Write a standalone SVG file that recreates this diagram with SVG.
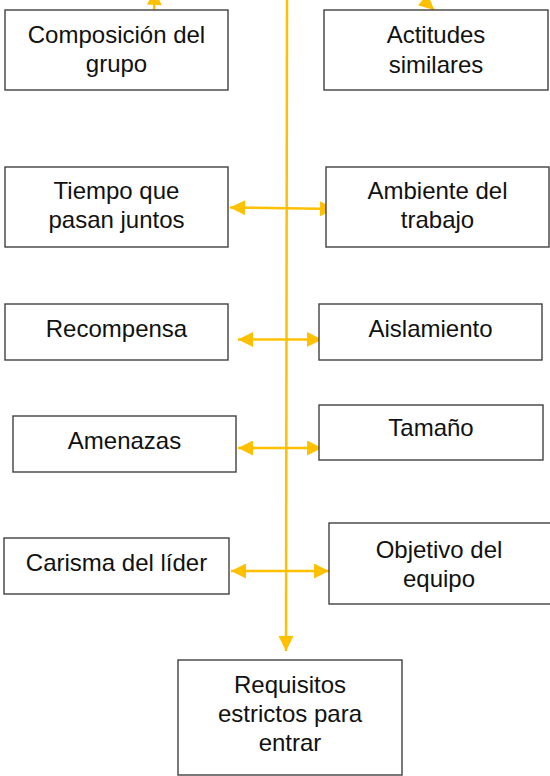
<svg xmlns="http://www.w3.org/2000/svg" width="550" height="776" viewBox="0 0 550 776">
<style>
.box{fill:#fff;stroke:#404040;stroke-width:1.4}
.t{font-family:"Liberation Sans",Arial,sans-serif;font-size:24px;fill:#111;text-anchor:middle}
.c{stroke:#FFC000;stroke-width:2.5;fill:none}
</style>
<defs>
<marker id="ah" viewBox="0 0 10 10" refX="10" refY="5" markerWidth="16" markerHeight="15" markerUnits="userSpaceOnUse" orient="auto-start-reverse">
<path d="M0,0 L10,5 L0,10 z" fill="#FFC000"/>
</marker>
</defs>
<rect width="550" height="776" fill="#fff"/>
<g id="connectors">
<line class="c" x1="287" y1="0" x2="286" y2="651" marker-end="url(#ah)"/>
<line class="c" x1="154" y1="10" x2="155" y2="-10" marker-end="url(#ah)"/>
<line class="c" x1="408" y1="-14" x2="434" y2="10" marker-end="url(#ah)"/>
<line class="c" x1="230" y1="207.5" x2="335" y2="209" marker-start="url(#ah)" marker-end="url(#ah)"/>
<line class="c" x1="238" y1="339.5" x2="322" y2="339.5" marker-start="url(#ah)" marker-end="url(#ah)"/>
<line class="c" x1="238" y1="448" x2="322" y2="448" marker-start="url(#ah)" marker-end="url(#ah)"/>
<line class="c" x1="231" y1="571" x2="329" y2="571" marker-start="url(#ah)" marker-end="url(#ah)"/>
</g>
<g id="composicion"><rect class="box" x="5" y="10" width="223" height="80"/><text class="t" x="116.5" y="43">Composición del</text><text class="t" x="116.5" y="72">grupo</text></g>
<g id="actitudes"><rect class="box" x="324" y="10" width="224" height="80"/><text class="t" x="436" y="43">Actitudes</text><text class="t" x="436" y="73">similares</text></g>
<g id="tiempo"><rect class="box" x="5" y="167" width="223" height="80"/><text class="t" x="116.5" y="199">Tiempo que</text><text class="t" x="116.5" y="228">pasan juntos</text></g>
<g id="ambiente"><rect class="box" x="326" y="167" width="223" height="80"/><text class="t" x="437.5" y="199">Ambiente del</text><text class="t" x="437.5" y="228">trabajo</text></g>
<g id="recompensa"><rect class="box" x="5" y="304" width="223" height="56"/><text class="t" x="116.5" y="337">Recompensa</text></g>
<g id="aislamiento"><rect class="box" x="319" y="304" width="223" height="56"/><text class="t" x="430.5" y="337">Aislamiento</text></g>
<g id="amenazas"><rect class="box" x="13" y="416" width="223" height="56"/><text class="t" x="124.5" y="449">Amenazas</text></g>
<g id="tamano"><rect class="box" x="319" y="405" width="224" height="55"/><text class="t" x="431" y="436">Tamaño</text></g>
<g id="carisma"><rect class="box" x="4" y="538" width="225" height="56"/><text class="t" x="116.5" y="571">Carisma del líder</text></g>
<g id="objetivo"><rect class="box" x="329" y="523" width="222" height="81"/><text class="t" x="439" y="558">Objetivo del</text><text class="t" x="439" y="587">equipo</text></g>
<g id="requisitos"><rect class="box" x="178" y="660" width="224" height="115"/><text class="t" x="290" y="693">Requisitos</text><text class="t" x="290" y="722">estrictos para</text><text class="t" x="290" y="751">entrar</text></g>
</svg>
